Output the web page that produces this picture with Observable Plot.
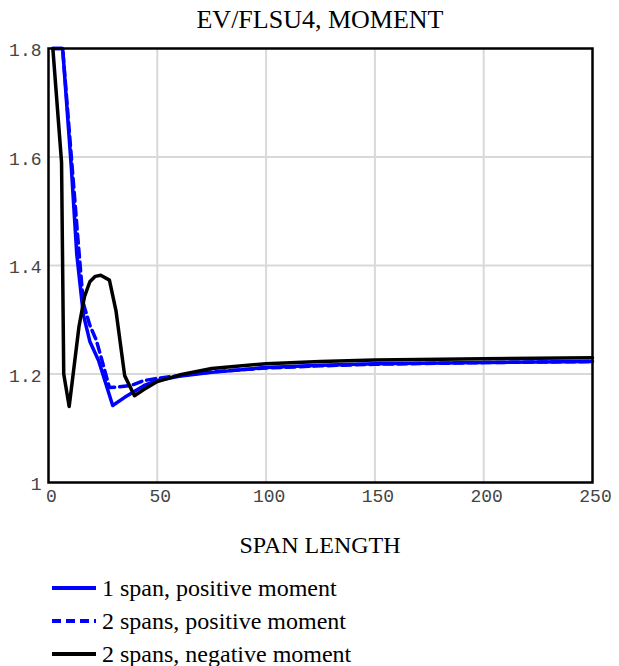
<!DOCTYPE html>
<html>
<head>
<meta charset="utf-8">
<script src="https://cdn.jsdelivr.net/npm/d3@7"></script>
<script src="https://cdn.jsdelivr.net/npm/@observablehq/plot@0.6"></script>
<style>
  html, body { margin: 0; padding: 0; background: #fff; }
  #wrap { width: 619px; height: 666px; position: relative; overflow: hidden; }
  .serif { font-family: "Liberation Serif", "Times New Roman", serif; color: #000; }
  #title { position: absolute; left: 48px; width: 544px; top: 4px; text-align: center; font-size: 26px; line-height: 32px; }
  #xlabel { position: absolute; left: 48px; width: 544px; top: 530px; text-align: center; font-size: 24px; line-height: 30px; }
  #legend { position: absolute; left: 52px; top: 571px; font-size: 24px; }
  .row { height: 33px; display: flex; align-items: center; line-height: 28px; }
  .row svg { margin-right: 6px; }
  #chart { position: absolute; left: 0; top: 40px; }
</style>
</head>
<body>
<div id="wrap">
  <div id="title" class="serif">EV/FLSU4, MOMENT</div>
  <div id="chart"></div>
  <div id="xlabel" class="serif">SPAN LENGTH</div>
  <div id="legend" class="serif"></div>
</div>
<script>
// Series: 1 span, positive moment
const span1Pos_x = [2, 6.5, 10.5, 13, 16, 19, 23, 26.5, 29.5, 35, 44, 50, 60, 75, 100, 125, 150, 200, 250];
const span1Pos_y = [1.8, 1.8, 1.58, 1.42, 1.31, 1.26, 1.225, 1.18, 1.142, 1.157, 1.179, 1.188, 1.196, 1.203, 1.212, 1.216, 1.219, 1.221, 1.223];
// Series: 2 spans, positive moment
const span2Pos_x = [2, 6.5, 10.5, 13.5, 16, 19, 22, 25, 28, 32, 38, 44, 50, 60, 75, 100, 125, 150, 200, 250];
const span2Pos_y = [1.8, 1.8, 1.6, 1.45, 1.33, 1.29, 1.262, 1.219, 1.175, 1.176, 1.179, 1.188, 1.192, 1.197, 1.204, 1.211, 1.215, 1.218, 1.221, 1.223];
// Series: 2 spans, negative moment
const span2Neg_x = [2, 6, 7, 9.5, 14, 16.5, 19, 21.5, 24, 28, 31, 35, 39.5, 44, 50, 60, 75, 100, 125, 150, 200, 250];
const span2Neg_y = [1.8, 1.59, 1.2, 1.14, 1.287, 1.342, 1.37, 1.38, 1.382, 1.373, 1.317, 1.197, 1.16, 1.172, 1.186, 1.198, 1.21, 1.219, 1.223, 1.226, 1.228, 1.23];

const seriesNames = ["1 span, positive moment", "2 spans, positive moment", "2 spans, negative moment"];
const seriesColors = ["#0000ff", "#0000ff", "#000000"];
const seriesDash = [null, "9,5", null];

const xTicks = [0, 50, 100, 150, 200, 250];
const yTicks = [1, 1.2, 1.4, 1.6, 1.8];
const xGrid = [50, 100, 150, 200];
const yGrid = [1.2, 1.4, 1.6];

const toRows = (xs, ys) => xs.map((x, i) => ({x, y: ys[i]}));
const series = [toRows(span1Pos_x, span1Pos_y), toRows(span2Pos_x, span2Pos_y), toRows(span2Neg_x, span2Neg_y)];

const tickFont = {fontFamily: "'Liberation Mono', 'Courier New', monospace", fontSize: 18, fill: "#444"};

const chart = Plot.plot({
  width: 619,
  height: 472,
  marginTop: 8,
  marginLeft: 48,
  marginRight: 27,
  marginBottom: 30,
  style: {fontFamily: "'Liberation Mono', 'Courier New', monospace", fontSize: "18px", color: "#444", background: "white"},
  x: {domain: [0, 250]},
  y: {domain: [1, 1.8]},
  marks: [
    Plot.ruleX(xGrid, {stroke: "#d9d9d9", strokeWidth: 2}),
    Plot.ruleY(yGrid, {stroke: "#d9d9d9", strokeWidth: 2}),
    Plot.axisX({ticks: xTicks, tickSize: 0, tickPadding: 7, label: null, tickFormat: d => String(d), dx: 3, ...tickFont}),
    Plot.axisY({ticks: yTicks, tickSize: 0, tickPadding: 7, label: null, tickFormat: d => String(d), dy: 2, ...tickFont}),
    ...series.map((s, i) => Plot.line(s, {x: "x", y: "y", stroke: seriesColors[i], strokeWidth: 3.5, strokeDasharray: seriesDash[i], strokeLinejoin: "round"})),
    Plot.frame({stroke: "black", strokeWidth: 2.5})
  ]
});
document.getElementById("chart").appendChild(chart);

const legend = document.getElementById("legend");
seriesNames.forEach((name, i) => {
  const row = document.createElement("div");
  row.className = "row";
  const dash = seriesDash[i] ? ` stroke-dasharray="${seriesDash[i]}"` : "";
  row.innerHTML = `<svg width="44" height="8"><line x1="0" y1="4" x2="44" y2="4" stroke="${seriesColors[i]}" stroke-width="4"${dash}/></svg><span>${name}</span>`;
  legend.appendChild(row);
});
</script>
</body>
</html>
